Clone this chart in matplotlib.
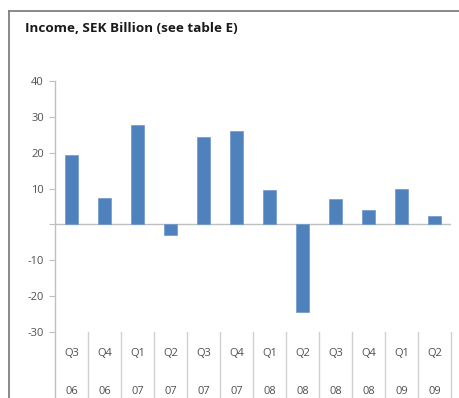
import matplotlib
matplotlib.use("Agg")
import matplotlib.pyplot as plt
from matplotlib.lines import Line2D

quarters = ["Q3", "Q4", "Q1", "Q2", "Q3", "Q4", "Q1", "Q2", "Q3", "Q4", "Q1", "Q2"]
years = ["06", "06", "07", "07", "07", "07", "08", "08", "08", "08", "09", "09"]
income = [19.3, 7.4, 27.7, -2.9, 24.4, 26.1, 9.7, -24.3, 7.0, 4.0, 9.9, 2.3]
yticks = [-30, -20, -10, 0, 10, 20, 30, 40]
ytick_labels = ["-30", "-20", "-10", "", "10", "20", "30", "40"]
title = "Income, SEK Billion (see table E)"

W, H = 460, 398
fig = plt.figure(figsize=(W / 100, H / 100), dpi=100)
fig.patch.set_facecolor("white")

# outer frame (top and left visible)
fig.add_artist(Line2D([9 / W, 1.0], [1 - 11 / H, 1 - 11 / H], transform=fig.transFigure,
                      color="#808080", lw=1.3))
fig.add_artist(Line2D([9 / W, 9 / W], [0, 1 - 11 / H], transform=fig.transFigure,
                      color="#808080", lw=1.3))

fig.text(25 / W, 1 - 28 / H, title, fontsize=9.7, fontweight="bold",
         family="Open Sans", va="center", ha="left", color="#1a1a1a")

left, right = 55 / W, 451 / W
top, bottom = 1 - 81 / H, 1 - 332 / H
ax = fig.add_axes([left, bottom, right - left, top - bottom])
n = len(income)
x = list(range(n))
ax.bar(x, income, width=0.42, color="#4F81BD", edgecolor="#6d98cc", linewidth=0.5, zorder=3)
ax.set_xlim(-0.5, n - 0.5)
ax.set_ylim(-30, 40)
for s in ax.spines.values():
    s.set_visible(False)
ax.set_xticks([])
ax.set_yticks(yticks)
ax.set_yticklabels(ytick_labels, fontsize=8, color="#505050", family="Open Sans")
ax.tick_params(axis="y", length=4, width=0.8, color="#bfbfbf", pad=4)
ax.axhline(0, color="#bfbfbf", lw=1.0, zorder=2)

ppu = (332 - 81) / 70.0
y_low = -30 - (H - 332) / ppu - 1
# left axis line extending into label area
ax.plot([-0.5, -0.5], [40, y_low], color="#bfbfbf", lw=1.0, clip_on=False, zorder=2)
for i in range(1, n + 1):
    ax.plot([i - 0.5, i - 0.5], [-30, y_low], color="#d0d0d0", lw=1.0, clip_on=False, zorder=2)

yq = -30 - (353 - 332) / ppu
yy = -30 - (391 - 332) / ppu
for i in range(n):
    ax.text(i, yq, quarters[i], ha="center", va="center", fontsize=8, color="#505050",
            family="Open Sans", clip_on=False)
    ax.text(i, yy, years[i], ha="center", va="center", fontsize=8, color="#505050",
            family="Open Sans", clip_on=False)

fig.savefig("out.png", dpi=100)
